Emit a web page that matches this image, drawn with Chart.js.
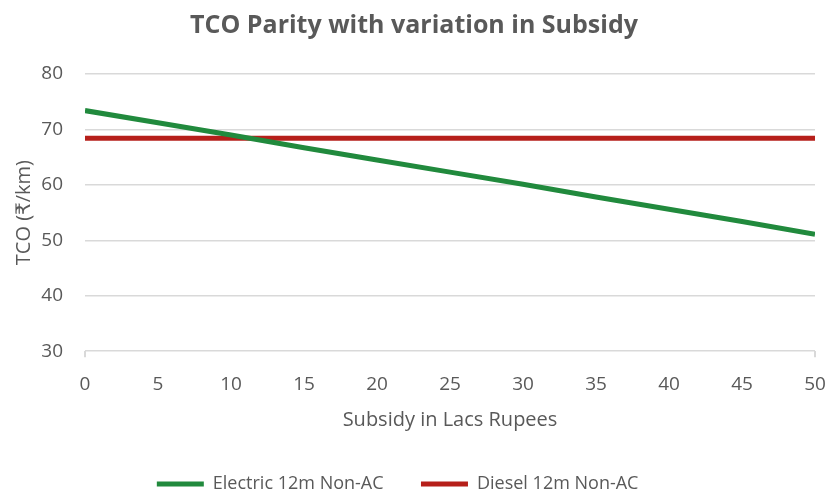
<!DOCTYPE html>
<html>
<head>
<meta charset="utf-8">
<script src="https://cdn.jsdelivr.net/npm/chart.js@4"></script>
<style>
  html, body { margin: 0; padding: 0; background: #fff; }
  #wrap { width: 828px; height: 491px; }
</style>
</head>
<body>
<div id="wrap"><canvas id="tcoChart"></canvas></div>
<script>
const subsidy = [0, 5, 10, 15, 20, 25, 30, 35, 40, 45, 50];
const electricTco = [73.4, 71.2, 69.0, 66.7, 64.5, 62.3, 60.1, 57.8, 55.6, 53.4, 51.1];
const dieselTco = [68.4, 68.4, 68.4, 68.4, 68.4, 68.4, 68.4, 68.4, 68.4, 68.4, 68.4];

const font = "'Open Sans', 'DejaVu Sans', sans-serif";
const grey = '#595959';

const toPoints = vals => subsidy.map((s, i) => ({ x: s, y: vals[i] }));

Chart.defaults.font.family = font;
Chart.defaults.color = grey;

const ctx = document.getElementById("tcoChart").getContext("2d");
new Chart(ctx, {
  type: 'line',
  data: {
    datasets: [{
      label: 'Electric 12m Non-AC',
      data: toPoints(electricTco),
      borderColor: '#218a3d',
      backgroundColor: '#218a3d',
      borderWidth: 5,
      pointRadius: 0,
      fill: false
    }, {
      label: 'Diesel 12m Non-AC',
      data: toPoints(dieselTco),
      borderColor: '#b61f1a',
      backgroundColor: '#b61f1a',
      borderWidth: 5,
      pointRadius: 0,
      fill: false
    }]
  },
  options: {
    responsive: true,
    maintainAspectRatio: false,
    animation: false,
    layout: { padding: { left: 0, right: 0, top: 6, bottom: -12 } },
    plugins: {
      title: {
        display: true,
        text: 'TCO Parity with variation in Subsidy',
        font: { size: 25, weight: 'bold' },
        color: grey,
        padding: { top: 5, bottom: 33 }
      },
      legend: {
        position: 'bottom',
        labels: {
          boxWidth: 47,
          boxHeight: 5,
          padding: 0,
          font: { size: 18 },
          color: grey,
          // trailing spaces mimic the wide gap between legend entries
          generateLabels: chart =>
            Chart.defaults.plugins.legend.labels.generateLabels(chart)
              .map((l, i) => ({ ...l, text: l.text + (i ? '       ' : '        '), lineWidth: 0 }))
        }
      },
      tooltip: { enabled: false }
    },
    scales: {
      x: {
        type: 'linear',
        min: 0,
        max: 50,
        ticks: { stepSize: 5, font: { size: 19 }, color: grey, padding: 16 },
        grid: {
          drawOnChartArea: false,
          tickLength: 6,
          color: c => (c.tick && (c.tick.value === 0 || c.tick.value === 50)) ? '#d9d9d9' : 'rgba(0,0,0,0)',
          lineWidth: 2
        },
        border: { display: false },
        title: {
          display: true,
          text: 'Subsidy in Lacs Rupees',
          font: { size: 20 },
          color: grey,
          padding: { top: -4, bottom: 43 }
        },
        afterFit: s => { s.paddingLeft = 0; s.paddingRight = 13; }
      },
      y: {
        min: 30,
        max: 80,
        ticks: { stepSize: 10, font: { size: 19 }, color: grey, padding: 22 },
        grid: { color: '#d9d9d9', lineWidth: 1.5, drawTicks: false },
        border: { display: false },
        title: {
          display: true,
          text: 'TCO (₹/km)',
          font: { size: 20 },
          color: grey,
          padding: { top: 12, bottom: 4 }
        },
        afterFit: s => { s.width = 85; }
      }
    }
  }
});
</script>
</body>
</html>
